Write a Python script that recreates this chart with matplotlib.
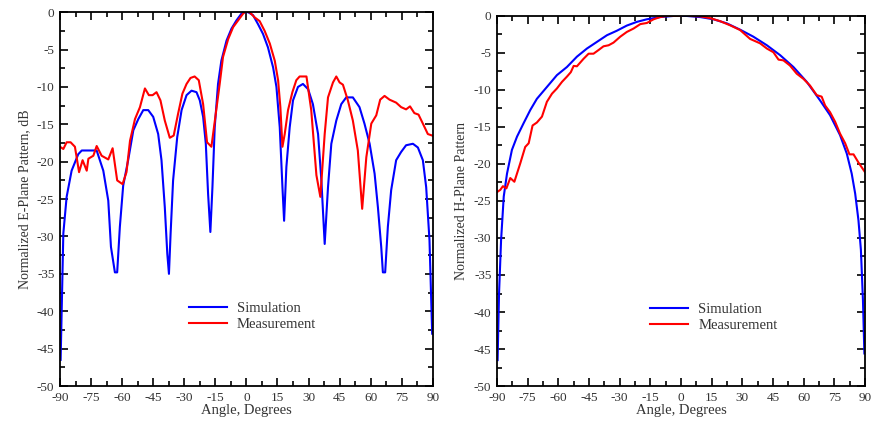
import matplotlib.pyplot as plt
from matplotlib.ticker import MultipleLocator

# E-plane: simulation
e_sim_ang = [-89.7, -88.4, -86.8, -84.4, -81.2, -79.5, -72.3, -69.1, -66.7, -65.4, -63.5, -62.4,
             -61.1, -59.5, -57.1, -54.6, -52.2, -49.8, -47.4, -45.0, -42.6, -41.0, -39.4, -38.2,
             -37.4, -36.6, -35.4, -33.4, -31.3, -28.9, -26.5, -24.1, -22.5, -20.9, -19.6, -18.5,
             -17.4, -16.4, -15.3, -13.7, -12.1, -9.6, -7.2, -4.8, -2.4, -0.8, 0.8, 3.2, 5.6, 8.0,
             10.4, 12.9, 14.5, 16.1, 17.4, 18.2, 19.3, 20.9, 22.5, 24.9, 27.3, 29.8, 32.1, 34.6,
             36.2, 37.8, 39.4, 41.0, 43.4, 45.8, 48.2, 51.4, 54.6, 57.0, 59.5, 61.9, 63.5, 65.1,
             65.9, 67.0, 68.3, 69.9, 72.3, 74.7, 77.1, 80.4, 82.8, 85.2, 86.8, 88.4, 89.7]
e_sim_db = [-46.5, -29.6, -24.7, -21.2, -19.0, -18.5, -18.5, -21.2, -25.2, -31.4, -34.8, -34.8,
            -28.7, -23.2, -19.8, -15.8, -14.3, -13.1, -13.1, -14.0, -16.3, -19.8, -26.1, -32.3,
            -35.0, -29.6, -22.5, -16.7, -13.1, -11.1, -10.5, -10.7, -11.8, -14.0, -17.6, -24.3,
            -29.4, -23.4, -15.4, -9.6, -6.5, -3.8, -2.2, -1.1, -0.2, 0.0, 0.0, -0.4, -1.6, -2.9,
            -4.7, -7.4, -10.0, -15.4, -23.4, -27.9, -20.7, -15.4, -11.8, -10.0, -9.6, -10.3,
            -12.3, -16.3, -22.5, -31.0, -23.4, -17.6, -14.5, -12.3, -11.4, -11.4, -12.7, -14.9,
            -17.6, -21.6, -26.1, -31.4, -34.8, -34.8, -28.7, -23.8, -19.8, -18.7, -17.8, -17.6,
            -18.1, -19.8, -23.4, -30.5, -43.0]

# E-plane: measurement
e_meas_ang = [-90.0, -88.4, -86.8, -84.9, -82.8, -80.8, -79.1, -77.1, -76.3, -73.9, -72.3, -69.9,
              -66.7, -64.6, -62.4, -59.8, -57.9, -56.2, -53.8, -51.4, -49.0, -47.1, -45.3, -43.4,
              -41.5, -39.4, -37.0, -35.1, -33.0, -30.9, -28.9, -27.0, -25.0, -23.0, -20.9, -19.0,
              -16.9, -14.8, -12.9, -11.3, -8.8, -6.4, -4.0, -1.6, 0.0, 1.9, 4.0, 6.4, 8.8, 11.3,
              13.7, 15.3, 16.4, 17.4, 18.5, 20.1, 22.2, 24.1, 25.7, 29.0, 31.3, 33.8, 35.7, 37.8,
              39.4, 41.8, 43.4, 45.0, 46.6, 49.0, 51.4, 53.8, 55.9, 57.9, 60.3, 62.7, 64.6, 66.7,
              69.1, 72.3, 74.7, 77.1, 79.0, 81.1, 83.1, 85.2, 87.6, 89.7]
e_meas_db = [-18.0, -18.3, -17.4, -17.4, -18.0, -21.4, -19.8, -21.2, -19.6, -19.2, -17.9, -19.2,
             -19.7, -18.2, -22.5, -23.0, -21.4, -17.2, -14.3, -12.7, -10.2, -11.1, -11.1, -10.7,
             -11.8, -14.5, -16.8, -16.5, -13.6, -10.9, -9.6, -8.8, -8.6, -9.1, -12.3, -17.4,
             -18.0, -13.6, -9.6, -6.0, -3.6, -2.0, -1.1, -0.2, 0.2, -0.1, -0.7, -1.2, -2.5, -4.2,
             -6.5, -9.1, -12.7, -18.0, -16.3, -13.1, -10.7, -9.1, -8.6, -8.6, -13.1, -21.8, -24.7,
             -16.3, -11.4, -9.4, -8.6, -9.4, -9.7, -11.8, -14.5, -18.5, -26.3, -19.4, -14.9, -13.8,
             -11.7, -11.2, -11.7, -12.1, -12.7, -13.0, -12.6, -13.5, -13.7, -14.9, -16.3, -16.5]

# H-plane: simulation
h_sim_ang = [-89.7, -89.0, -88.0, -86.7, -85.1, -82.7, -80.2, -77.0, -73.7, -70.5, -65.6, -60.7,
             -55.8, -50.9, -46.0, -41.1, -36.2, -31.4, -26.5, -21.6, -16.7, -10.2, -3.7, 2.8, 9.4,
             15.9, 22.4, 28.9, 35.4, 42.0, 48.5, 55.0, 61.5, 68.0, 72.9, 77.8, 81.1, 83.5, 85.2,
             86.8, 88.0, 89.0, 89.7]
h_sim_db = [-46.5, -37.5, -30.3, -24.4, -21.3, -18.1, -16.3, -14.5, -12.7, -11.2, -9.6, -8.0,
            -6.9, -5.5, -4.4, -3.5, -2.6, -2.0, -1.3, -0.8, -0.45, -0.15, 0.0, 0.0, -0.15, -0.45,
            -1.0, -1.85, -2.8, -3.96, -5.3, -6.9, -8.9, -11.4, -13.4, -16.1, -18.6, -21.3, -24.0,
            -27.6, -31.6, -38.4, -45.6]

# H-plane: measurement
h_meas_ang = [-90.0, -88.4, -87.1, -85.4, -83.5, -81.5, -78.6, -76.2, -74.5, -72.6, -70.5, -68.0,
              -65.6, -63.1, -60.7, -58.2, -55.8, -53.9, -52.5, -50.9, -47.7, -45.2, -42.8, -40.3,
              -37.9, -35.4, -33.0, -29.7, -26.5, -23.2, -19.9, -16.7, -13.4, -10.2, -6.9, -3.7,
              -0.4, 1.2, 2.8, 4.5, 9.4, 14.3, 19.1, 24.0, 28.9, 33.8, 38.7, 42.0, 45.2, 47.7, 50.1,
              53.3, 56.6, 59.9, 63.1, 66.4, 68.8, 70.5, 72.9, 75.4, 77.8, 80.3, 82.4, 84.4, 86.8,
              90.0]
h_meas_db = [-23.8, -23.5, -23.0, -23.3, -21.9, -22.4, -19.9, -17.7, -17.2, -14.8, -14.4, -13.6,
             -11.6, -10.5, -9.8, -8.9, -8.2, -7.6, -6.75, -6.8, -5.8, -5.1, -5.1, -4.6, -4.1,
             -3.96, -3.6, -2.8, -2.16, -1.7, -1.1, -0.95, -0.45, -0.15, 0.0, 0.0, 0.0, 0.2, 0.2,
             0.0, -0.05, -0.3, -0.7, -1.26, -1.9, -3.1, -3.7, -4.4, -4.9, -5.9, -6.0, -6.7, -7.8,
             -8.5, -9.4, -10.7, -10.9, -12.1, -13.0, -14.3, -15.9, -17.2, -18.7, -18.7, -19.8,
             -21.1]

x_ticks = list(range(-90, 91, 15))
y_ticks = list(range(-50, 1, 5))

plt.rcParams['font.family'] = ['Liberation Serif', 'DejaVu Serif']
plt.rcParams['axes.unicode_minus'] = False

fig = plt.figure(figsize=(8.71, 4.21), dpi=100)
ax1 = fig.add_axes([0.0689, 0.0831, 0.428, 0.888])
ax2 = fig.add_axes([0.5706, 0.0831, 0.4225, 0.879])


def style(ax, ylabel, leg_x):
    ax.set_xlim(-90, 90)
    ax.set_ylim(-50, 0)
    ax.set_xticks(x_ticks)
    ax.set_yticks(y_ticks)
    ax.xaxis.set_minor_locator(MultipleLocator(7.5))
    ax.yaxis.set_minor_locator(MultipleLocator(2.5))
    ax.tick_params(which='both', direction='in', top=True, right=True, labelsize=9.5, width=1.2,
                   pad=4, colors='black', labelcolor='#333333')
    ax.tick_params(which='major', length=6)
    ax.tick_params(which='minor', length=3.5)
    for s in ax.spines.values():
        s.set_linewidth(1.3)
    ax.set_xlabel('Angle, Degrees', fontsize=10.5, labelpad=0, color='#333333')
    ax.set_ylabel(ylabel, fontsize=10, labelpad=4, color='#333333')
    ax.legend(loc='upper left', bbox_to_anchor=(leg_x, 0.24), frameon=False, fontsize=10.5,
              handlelength=2.6, handletextpad=0.7, labelspacing=0.2, borderaxespad=0,
              labelcolor='#333333')


ax1.plot(e_sim_ang, e_sim_db, color='#0000ff', lw=1.5, label='Simulation')
ax1.plot(e_meas_ang, e_meas_db, color='#ff0000', lw=1.5, label='Measurement')
style(ax1, 'Normalized E-Plane Pattern, dB', 0.33)

ax2.plot(h_sim_ang, h_sim_db, color='#0000ff', lw=1.5, label='Simulation')
ax2.plot(h_meas_ang, h_meas_db, color='#ff0000', lw=1.5, label='Measurement')
style(ax2, 'Normalized H-Plane Pattern', 0.4)

fig.savefig('out.png', dpi=100)
